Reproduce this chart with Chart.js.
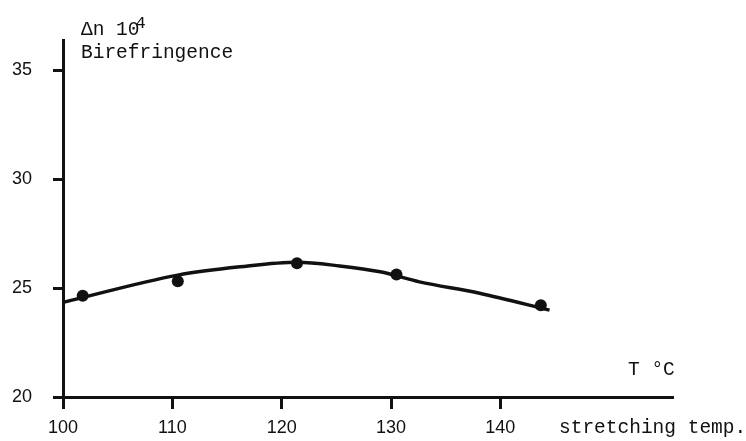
<!DOCTYPE html>
<html lang="en">
<head>
<meta charset="UTF-8">
<title>Birefringence vs stretching temperature</title>
<script src="https://cdn.jsdelivr.net/npm/chart.js@4/dist/chart.umd.min.js"></script>
<style>
  html, body { margin: 0; padding: 0; background: #fff; }
  #wrap { width: 746px; height: 441px; position: relative; }
</style>
</head>
<body>
<div id="wrap"><canvas id="chart" width="746" height="441"></canvas></div>
<script>
// measured points
const tempC = [101.8, 110.5, 121.4, 130.5, 143.7];
const birefringence = [24.65, 25.32, 26.14, 25.63, 24.22];

// hand-drawn smoothing curve, read along its path
const fitTemp = [100.1, 110.5, 116.2, 121.4, 125.3, 129.0, 132.6, 138.1, 144.5];
const fitBirefringence = [24.36, 25.6, 25.98, 26.19, 26.02, 25.75, 25.29, 24.77, 23.99];

const xTicks = [100, 110, 120, 130, 140];
const yTicks = [20, 25, 30, 35];

const mono = '"Liberation Mono", "DejaVu Sans Mono", monospace';

// axis captions written on the canvas
const captions = {
  id: 'captions',
  afterDraw(chart) {
    const ctx = chart.ctx;
    ctx.save();
    ctx.fillStyle = '#111';
    ctx.textBaseline = 'alphabetic';
    ctx.textAlign = 'left';
    ctx.font = '19.5px ' + mono;
    ctx.fillText('\u0394n 10', 81, 35);
    const w = ctx.measureText('\u0394n 10').width;
    ctx.font = '17px ' + mono;
    ctx.fillText('4', 81 + w - 4, 28);
    ctx.font = '19.5px ' + mono;
    ctx.fillText('Birefringence', 81, 58);
    ctx.fillText('T \u00B0C', 628, 375);
    ctx.fillText('stretching temp.', 559, 433);
    ctx.restore();
  }
};

new Chart(document.getElementById('chart'), {
  type: 'scatter',
  data: {
    datasets: [
      {
        data: fitTemp.map((x, i) => ({ x: x, y: fitBirefringence[i] })),
        showLine: true,
        borderColor: '#111',
        borderWidth: 3.5,
        pointRadius: 0,
        cubicInterpolationMode: 'monotone',
        fill: false
      },
      {
        data: tempC.map((x, i) => ({ x: x, y: birefringence[i] })),
        backgroundColor: '#111',
        borderColor: '#111',
        pointRadius: 6,
        pointBorderWidth: 0
      }
    ]
  },
  options: {
    responsive: false,
    animation: false,
    layout: { padding: { top: 40, right: 74, left: 0, bottom: 0 } },
    plugins: { legend: { display: false }, tooltip: { enabled: false } },
    scales: {
      x: {
        type: 'linear',
        min: 100,
        max: 155.7,
        afterBuildTicks: (s) => { s.ticks = xTicks.map((v) => ({ value: v })); },
        afterFit: (s) => { s.height = 44; },
        border: { color: '#111', width: 3 },
        grid: { drawOnChartArea: false, drawTicks: true, tickLength: 12, color: '#111', lineWidth: 3 },
        ticks: {
          color: '#111',
          padding: 8,
          maxRotation: 0,
          font: { family: '"Liberation Sans", Arial, sans-serif', size: 18 }
        }
      },
      y: {
        min: 20,
        max: 36.4,
        afterBuildTicks: (s) => { s.ticks = yTicks.map((v) => ({ value: v })); },
        afterFit: (s) => { s.width = 63; },
        border: { color: '#111', width: 3 },
        grid: { drawOnChartArea: false, drawTicks: true, tickLength: 10, color: '#111', lineWidth: 3 },
        ticks: {
          color: '#111',
          padding: 21,
          font: { family: '"Liberation Sans", Arial, sans-serif', size: 18 }
        }
      }
    }
  },
  plugins: [captions]
});
</script>
</body>
</html>
